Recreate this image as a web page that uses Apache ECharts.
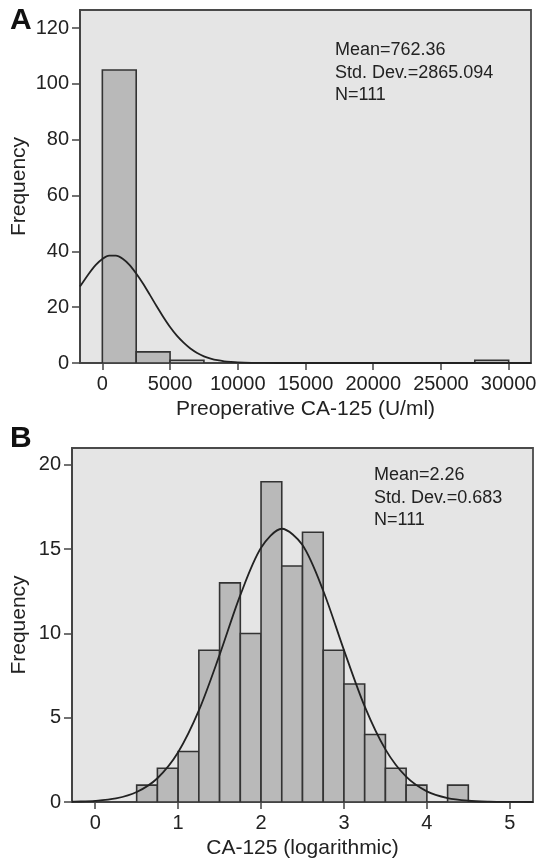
<!DOCTYPE html>
<html>
<head>
<meta charset="utf-8">
<script src="https://cdn.jsdelivr.net/npm/echarts@6/dist/echarts.min.js"></script>
<style>html,body{margin:0;padding:0;background:#fff;}#c{width:539px;height:859px;}</style>
</head>
<body>
<div id="c"></div>
<script>
// ---- Panel A data ----
const binsA = [[0,2500],[2500,5000],[5000,7500],[27500,30000]];
const countsA = [105, 4, 1, 1];
const curveAx = [-1650,-1000,-500,0,500,1000,1500,2000,2500,3000,3500,4000,4500,5000,5500,6000,6500,7000,7500,8000,8500,9000,9500,10000,11000,12000,14000,20000,26000,31650];
const curveAy = [27.4,32.0,35.1,37.3,38.5,38.5,37.4,35.2,32.1,28.5,24.5,20.4,16.5,12.9,9.8,7.3,5.2,3.6,2.4,1.6,1.0,0.6,0.37,0.21,0.07,0.02,0,0,0,0];
const xTicksA = [0,5000,10000,15000,20000,25000,30000];
const yTicksA = [0,20,40,60,80,100,120];
const statsA = ['Mean=762.36','Std. Dev.=2865.094','N=111'];

// ---- Panel B data ----
const binStartB = [0.5,0.75,1.0,1.25,1.5,1.75,2.0,2.25,2.5,2.75,3.0,3.25,3.5,3.75,4.0,4.25];
const countsB = [1,2,3,9,13,10,19,14,16,9,7,4,2,1,0,1];
const binWidthB = 0.25;
const curveBx = [-0.28,-0.25,0,0.25,0.5,0.75,1.0,1.25,1.5,1.75,2.0,2.25,2.5,2.75,3.0,3.25,3.5,3.75,4.0,4.25,4.5,4.75,5.0,5.28];
const curveBy = [0.015,0.019,0.068,0.21,0.59,1.41,2.95,5.43,8.73,12.27,15.08,16.21,15.24,12.53,9.01,5.67,3.12,1.50,0.63,0.23,0.075,0.021,0.005,0.001];
const xTicksB = [0,1,2,3,4,5];
const yTicksB = [0,5,10,15,20];
const statsB = ['Mean=2.26','Std. Dev.=0.683','N=111'];

const FONT = '"Liberation Sans", Arial, sans-serif';
const barFill = '#b9b9b9', barStroke = '#333333';

function histItem(params, api){
  const x0 = api.value(0), x1 = api.value(1), y = api.value(2);
  if (!y) return null;
  const p0 = api.coord([x0, y]);
  const p1 = api.coord([x1, 0]);
  return {
    type: 'rect',
    shape: {x: p0[0], y: p0[1], width: p1[0]-p0[0], height: p1[1]-p0[1]},
    style: {fill: barFill, stroke: barStroke, lineWidth: 1.6}
  };
}

const dataA = binsA.map((b,i)=>[b[0], b[1], countsA[i]]);
const dataB = binStartB.map((s,i)=>[s, s+binWidthB, countsB[i]]);
const lineA = curveAx.map((x,i)=>[x, curveAy[i]]);
const lineB = curveBx.map((x,i)=>[x, curveBy[i]]);

const plain = v => String(v);

function xAxis(idx, min, max, ticks, name){
  return {
    type:'value', gridIndex: idx, min, max,
    name, nameLocation:'middle', nameGap: 36, nameMoveOverlap:false,
    nameTextStyle:{fontFamily:FONT, fontSize:21, color:'#222'},
    axisLine:{show:true, onZero:false, lineStyle:{color:'#444', width:2}},
    axisTick:{show:true, length:7, customValues: ticks, lineStyle:{color:'#444', width:1.5}},
    axisLabel:{customValues: ticks, formatter: plain, margin:11, fontFamily:FONT, fontSize:20, color:'#222'},
    splitLine:{show:false}
  };
}
function yAxis(idx, min, max, ticks, gap){
  return {
    type:'value', gridIndex: idx, min, max,
    name:'Frequency', nameLocation:'middle', nameGap: gap, nameRotate: 90, nameMoveOverlap:false,
    nameTextStyle:{fontFamily:FONT, fontSize:21, color:'#222'},
    axisLine:{show:true, onZero:false, lineStyle:{color:'#444', width:2}},
    axisTick:{show:true, length:8, customValues: ticks, lineStyle:{color:'#444', width:1.5}},
    axisLabel:{customValues: ticks, formatter: plain, margin:11, fontFamily:FONT, fontSize:20, color:'#222'},
    splitLine:{show:false}
  };
}

const chart = echarts.init(document.getElementById('c'), null, {renderer:'canvas'});
chart.setOption({
  animation:false,
  backgroundColor:'#ffffff',
  grid:[
    {left:80, top:10, width:451, height:353, show:true, backgroundColor:'#e5e5e5', borderColor:'#4a4a4a', borderWidth:1.8, outerBoundsMode:'none', containLabel:false},
    {left:72, top:448, width:461, height:354, show:true, backgroundColor:'#e5e5e5', borderColor:'#4a4a4a', borderWidth:1.8, outerBoundsMode:'none', containLabel:false}
  ],
  xAxis:[
    xAxis(0, -1650, 31650, xTicksA, 'Preoperative CA-125 (U/ml)'),
    xAxis(1, -0.28, 5.28, xTicksB, 'CA-125 (logarithmic)')
  ],
  yAxis:[
    yAxis(0, 0, 126.5, yTicksA, 50),
    yAxis(1, 0, 21, yTicksB, 42)
  ],
  series:[
    {type:'custom', xAxisIndex:0, yAxisIndex:0, renderItem: histItem, data: dataA, encode:{x:[0,1], y:2}, clip:true},
    {type:'line', xAxisIndex:0, yAxisIndex:0, data: lineA, smooth:0.3, showSymbol:false, lineStyle:{color:'#222', width:1.8}, clip:true, z:5},
    {type:'custom', xAxisIndex:1, yAxisIndex:1, renderItem: histItem, data: dataB, encode:{x:[0,1], y:2}, clip:true},
    {type:'line', xAxisIndex:1, yAxisIndex:1, data: lineB, smooth:0.3, showSymbol:false, lineStyle:{color:'#222', width:1.8}, clip:true, z:5}
  ],
  graphic:[
    {type:'text', left:10, top:6, style:{text:'A', font:'bold 30px '+FONT, fill:'#111'}},
    {type:'text', left:10, top:424, style:{text:'B', font:'bold 30px '+FONT, fill:'#111'}},
    {type:'text', left:335, top:39, style:{text: statsA.join('\n'), font:'18px '+FONT, lineHeight:22.5, fill:'#222'}},
    {type:'text', left:374, top:464, style:{text: statsB.join('\n'), font:'18px '+FONT, lineHeight:22.5, fill:'#222'}}
  ]
});
</script>
</body>
</html>
